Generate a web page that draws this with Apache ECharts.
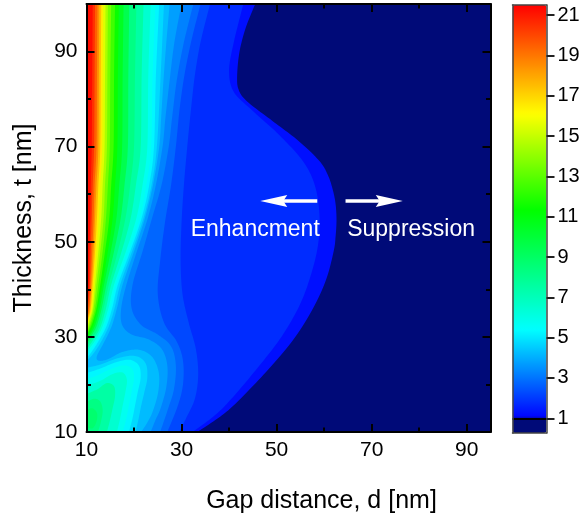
<!DOCTYPE html>
<html>
<head>
<meta charset="utf-8">
<script src="https://cdn.jsdelivr.net/npm/echarts@6/dist/echarts.min.js"></script>
<style>html,body{margin:0;padding:0;background:#fff}#c{width:587px;height:519px}</style>
</head>
<body>
<div id="c"></div>
<script>
// ---------- tick values ----------
const dMajor = [10, 30, 50, 70, 90];
const dMinor = [20, 40, 60, 80];
const tMajor = [10, 30, 50, 70, 90];
const tMinor = [20, 40, 60, 80, 100];
const cbTicks = [1, 3, 5, 7, 9, 11, 13, 15, 17, 19, 21];
const CB_MIN = 0.27, CB_MAX = 21.5;

// ---------- contour regions (d [nm], t [nm]) ----------
const base = [[10,10],[95,10],[95,100],[10,100]];
const c1   = [[45.5,100],[43.5,95],[42.2,90],[41.7,85],[42,82],[43.8,79.5],[49,75.5],[54.5,71.3],[59,67],[60.8,64],[61.8,61],[62.4,58],[62.6,54.6],[62.4,51],[62,48],[60.4,42],[57.5,35.7],[53.5,29.4],[48.2,23.1],[42.3,16.9],[38.5,13.5],[33.3,10],[10,10],[10,100]];
const c1_5 = [[43,100],[41,92],[40,86],[41,81.5],[45,77.5],[50.5,72.5],[55.5,67],[58,62],[59,56],[58.8,50],[57.5,44],[55,37],[51,30],[46,23.5],[40.5,17],[37,13.5],[32.3,10],[10,10],[10,100]];
const c2   = [[36,100],[34,92],[32.8,85],[32,78],[31.2,70],[30.5,62],[30,54],[29.8,46],[30.2,39],[31.5,33],[33,27.5],[33.5,22],[32.8,17],[31,13],[29.5,10],[10,10],[10,100]];
const c2_5 = [[34,100],[32,92],[30.6,85],[29.6,78],[28.8,70],[27.8,62],[26.5,54],[25.5,46],[25,39],[26.3,33],[29,29],[30.3,25],[30.3,20],[29.2,15.5],[27,10],[10,10],[10,100]];
const c3   = [[32.5,100],[30.5,92],[29,84],[28,76],[27.3,70],[25.8,62],[23.8,55],[21.8,48],[19.7,41],[19.5,36],[21.5,32.5],[25,30.5],[27.8,28],[28.8,24],[28.4,19],[27.2,15],[25.5,10],[10,10],[10,100]];
const c3_5 = [[30,100],[28.5,92],[27.5,84],[26.6,76],[26,70],[24.6,62],[22.9,55],[20.6,48],[18.4,41],[17.3,36],[17.5,32.5],[19.5,30.5],[23,29.5],[25.8,27.5],[27,24],[26.8,19.5],[25.6,15],[24.5,12.5],[23.5,10],[10,10],[10,100]];
const c4   = [[27.5,100],[26.8,92],[26.2,84],[25.7,76],[25.3,70],[24,62],[22.3,55],[20,48],[17.6,41],[16.4,36],[15.2,32],[13.5,28.5],[12.2,26],[12.5,25],[14.5,25.3],[17.5,26.8],[21,27.3],[23.8,25.8],[25.2,22.5],[25.1,18.5],[24,14.5],[22.8,12],[21.5,10],[10,10],[10,100]];
const s4_5 = [[26.3,100],[25.6,85],[24.8,70],[23.7,62],[22,55],[19.6,48],[17.1,41],[15.9,36],[14.6,32],[12.8,28.5],[11.2,26.2],[10,25],[10,100]];
const s5   = [[25.3,100],[24.6,85],[24.2,70],[23.2,62],[21.6,55],[19.2,48],[16.6,41],[15.4,36],[14.1,32],[12.3,28.7],[10.9,26.6],[10,25.6],[10,100]];
const s5_5 = [[24.5,100],[23.9,85],[23.6,70],[22.6,62],[21.2,55],[18.8,48],[16.2,41],[15,36],[13.7,32],[12,28.9],[10.7,27],[10,26.1],[10,100]];
const s6   = [[23.5,100],[23,85],[22.8,70],[21.8,62],[20.5,55],[18.3,48],[15.8,41],[14.6,36],[13.3,32],[11.8,29.2],[10.5,27.4],[10,26.6],[10,100]];
const s7   = [[22,100],[21.6,85],[21.4,70],[20.4,62],[19.3,55],[17.4,48],[15.2,41],[14.1,36],[12.9,32],[11.5,29.5],[10,27.3],[10,100]];
const s8   = [[20.5,100],[20.2,85],[20,70],[19.2,62],[18.2,55],[16.6,48],[14.7,41],[13.6,36],[12.5,32],[11.2,29.8],[10,27.9],[10,100]];
const s9   = [[19,100],[18.8,85],[18.7,70],[18,62],[17.2,55],[15.8,48],[14.2,41],[13.2,36],[12.1,32.2],[10.9,30],[10,28.4],[10,100]];
const s10  = [[17.8,100],[17.6,85],[17.5,70],[16.9,62],[16.3,55],[15.1,48],[13.7,41],[12.8,36],[11.8,32.4],[10.7,30.3],[10,28.9],[10,100]];
const s11  = [[16.8,100],[16.6,85],[16.5,70],[16,62],[15.5,55],[14.5,48],[13.3,41],[12.4,36],[11.5,32.6],[10.5,30.5],[10,29.4],[10,100]];
const s12  = [[16,100],[15.8,85],[15.7,70],[15.2,62],[14.8,55],[13.9,48],[12.9,41],[12.1,36],[11.2,32.8],[10.3,30.8],[10,29.9],[10,100]];
const s13  = [[15.2,100],[15,85],[14.9,70],[14.5,62],[14.1,55],[13.4,48],[12.5,41],[11.8,36],[11,33],[10,30.4],[10,100]];
const s14  = [[14.5,100],[14.4,85],[14.3,70],[13.9,62],[13.6,55],[12.9,48],[12.1,41],[11.5,36],[10.8,33.2],[10,30.8],[10,100]];
const s15  = [[14,100],[13.9,85],[13.8,70],[13.4,62],[13.1,55],[12.5,48],[11.8,41],[11.3,36],[10.6,33.4],[10,31.2],[10,100]];
const s16  = [[13.5,100],[13.4,85],[13.3,70],[12.9,62],[12.6,55],[12.1,48],[11.5,41],[11.1,36],[10.5,33.6],[10,31.6],[10,100]];
const s17  = [[13.1,100],[13,85],[12.9,70],[12.5,62],[12.2,55],[11.8,48],[11.3,41],[10.9,36],[10.4,33.8],[10,32],[10,100]];
const s18  = [[12.7,100],[12.6,85],[12.5,70],[12.1,62],[11.8,55],[11.5,48],[11.1,41],[10.7,36],[10.3,34],[10,32.4],[10,100]];
const s19  = [[12.3,100],[12.2,85],[12.1,70],[11.7,62],[11.5,55],[11.2,48],[10.9,41],[10.6,36.5],[10,33],[10,100]];
const s20  = [[11.8,100],[11.7,85],[11.6,70],[11.3,62],[11.1,55],[10.9,48],[10.7,41],[10.4,37],[10,34],[10,100]];
const s21  = [[11.3,100],[11.2,85],[11.1,70],[10.9,62],[10.8,55],[10.6,48],[10.5,41],[10.2,37],[10,35.5],[10,100]];
const b4_5 = [[10,10],[20.3,10],[20.9,12.5],[21.5,15.5],[22.2,18.5],[22.8,21.5],[22.4,24.5],[20.2,26],[16.5,25.5],[13,24.2],[10,23.5]];
const b5   = [[10,10],[18.9,10],[19.6,12.5],[20.2,15.5],[20.8,18.5],[21.4,21.5],[21,24],[19,25.2],[16,24.6],[12.8,23.3],[10,22.4]];
const b5_5 = [[10,10],[17.6,10],[18.3,12.5],[18.9,15.5],[19.5,18.5],[20,21.3],[19.6,23.3],[17.8,24],[15,23.2],[12.3,21.9],[10,21.2]];
const b6   = [[10,10],[16.4,10],[17,12.5],[17.6,15.5],[18.2,18.5],[18.5,21],[17.6,22.5],[15.5,22.2],[12.8,20.7],[10,19.8]];
const b7   = [[10,10],[14.3,10],[14.9,12.3],[15.5,15],[16,17.5],[15.8,19.6],[14.3,20.3],[12.3,19],[10,18]];
const b8   = [[10,10],[12.4,10],[13,12],[13.4,14.5],[12.9,16.4],[11.6,17],[10,16.3]];
const b8_5 = [[10,11],[11.3,10.8],[12.1,12.2],[12.2,14],[11.2,15],[10,14.6]];

// level of each region, drawn in this order
const regions = [
  [CB_MIN, base], [1, c1], [1.5, c1_5], [2, c2], [2.5, c2_5], [3, c3], [3.5, c3_5], [4, c4],
  [4.5, s4_5], [4.5, b4_5], [5, s5], [5, b5], [5.5, s5_5], [5.5, b5_5], [6, s6], [6, b6],
  [7, s7], [7, b7], [8, s8], [8, b8], [8.5, b8_5], [9, s9], [10, s10], [11, s11], [12, s12],
  [13, s13], [14, s14], [15, s15], [16, s16], [17, s17], [18, s18], [19, s19], [20, s20], [21, s21]
];

// annotations
const arrowLeft  = [[58.55, 58.6], [49.4, 58.6]];
const arrowRight = [[64.5, 58.6], [73.7, 58.6]];
const notes = [['Enhancment', 45.5, 52.5], ['Suppression', 78.3, 52.5]];

// ---------- colour scale ----------
const NAVY = [0, 10, 120];
function colorAt(v) {
  let r = 0, g = 0, b = 0;
  if (v < 1) { [r, g, b] = NAVY; }
  else if (v < 5.4) { g = 255 * (v - 1) / 4.4; b = 255; }
  else if (v < 11.3) { g = 255; b = 255 * (1 - (v - 5.4) / 5.9); }
  else if (v < 16.1) { g = 255; r = 255 * (v - 11.3) / 4.8; }
  else { r = 255; g = Math.max(0, 255 * (1 - (v - 16.1) / 5.4)); }
  return 'rgb(' + Math.round(r) + ',' + Math.round(g) + ',' + Math.round(b) + ')';
}
const NSTOP = 430;
const cmap = [];
for (let i = 0; i <= NSTOP; i++) cmap.push(colorAt(CB_MIN + (CB_MAX - CB_MIN) * i / NSTOP));

const levelsSorted = Array.from(new Set(regions.map(r => r[0]))).sort((a, b) => a - b);
const regionData = regions.map((r, i) => {
  const k = levelsSorted.indexOf(r[0]);
  const next = k < levelsSorted.length - 1 ? levelsSorted[k + 1] : CB_MAX;
  return [(r[0] + next) / 2, i];
});

// ---------- smooth outline drawing ----------
function onEdge(a, b) {
  return (a[0] === b[0] && (a[0] === 10 || a[0] === 95)) || (a[1] === b[1] && (a[1] === 10 || a[1] === 100));
}
function smoothOutline(pts, px) {
  const n = pts.length, out = [];
  const straight = i => onEdge(pts[i], pts[(i + 1) % n]);
  for (let i = 0; i < n; i++) {
    const j = (i + 1) % n;
    const p1 = px[i], p2 = px[j];
    out.push(p1);
    if (straight(i)) continue;
    const p0 = straight((i - 1 + n) % n) ? p1 : px[(i - 1 + n) % n];
    const p3 = straight(j) ? p2 : px[(j + 1) % n];
    const c1 = [p1[0] + (p2[0] - p0[0]) / 6, p1[1] + (p2[1] - p0[1]) / 6];
    const c2 = [p2[0] - (p3[0] - p1[0]) / 6, p2[1] - (p3[1] - p1[1]) / 6];
    const K = 12;
    for (let k = 1; k < K; k++) {
      const s = k / K, u = 1 - s;
      out.push([
        u*u*u*p1[0] + 3*u*u*s*c1[0] + 3*u*s*s*c2[0] + s*s*s*p2[0],
        u*u*u*p1[1] + 3*u*u*s*c1[1] + 3*u*s*s*c2[1] + s*s*s*p2[1]
      ]);
    }
  }
  return out;
}

const FONT = 'Liberation Sans, Arial, Helvetica, sans-serif';
const black = '#000';

function mainAxis(pos, isX, ticks, len, labels, extra) {
  return {
    type: 'value', gridIndex: 0, position: pos,
    min: 10, max: isX ? 95 : 100,
    splitLine: { show: false },
    axisLine: { show: !!labels || extra === 'line', onZero: false, lineStyle: { color: black, width: 2 } },
    axisTick: { show: true, inside: true, length: len, customValues: ticks, lineStyle: { color: black, width: 2 } },
    axisLabel: labels ? { show: true, customValues: labels, fontSize: 21, color: black, fontFamily: FONT, margin: isX ? 8 : 9 } : { show: false },
    z: 6
  };
}

const chart = echarts.init(document.getElementById('c'), null, { renderer: 'canvas' });

const xAxes = [
  Object.assign(mainAxis('bottom', true, dMajor, 8, dMajor), {
    name: 'Gap distance, d [nm]', nameLocation: 'middle', nameGap: 57,
    nameTextStyle: { fontSize: 25, color: black, fontFamily: FONT, padding: [0, 0, 0, 66] }
  }),
  mainAxis('bottom', true, dMinor, 4.5, null),
  mainAxis('top', true, dMajor, 8, null, 'line'),
  mainAxis('top', true, dMinor, 4.5, null),
  { type: 'value', gridIndex: 1, position: 'bottom', min: 0, max: 1, z: 10,
    axisLine: { show: true, onZero: false, lineStyle: { color: '#444', width: 1.5 } },
    axisTick: { show: false }, axisLabel: { show: false }, splitLine: { show: false } },
  { type: 'value', gridIndex: 1, position: 'top', min: 0, max: 1, z: 10,
    axisLine: { show: true, onZero: false, lineStyle: { color: '#444', width: 1.5 } },
    axisTick: { show: false }, axisLabel: { show: false }, splitLine: { show: false } }
];
const yAxes = [
  Object.assign(mainAxis('left', false, tMajor, 8, tMajor), {
    name: 'Thickness, t [nm]', nameLocation: 'middle', nameGap: 50,
    nameTextStyle: { fontSize: 25, color: black, fontFamily: FONT }
  }),
  mainAxis('left', false, tMinor, 4.5, null),
  mainAxis('right', false, tMajor, 8, null, 'line'),
  mainAxis('right', false, tMinor, 4.5, null),
  { type: 'value', gridIndex: 1, position: 'right', min: CB_MIN, max: CB_MAX, z: 10,
    axisLine: { show: true, onZero: false, lineStyle: { color: '#444', width: 1.5 } },
    axisTick: { show: true, inside: false, length: 8, customValues: cbTicks, lineStyle: { color: '#222', width: 2 } },
    axisLabel: { show: true, customValues: cbTicks, fontSize: 20, color: black, fontFamily: FONT, margin: 11 },
    splitLine: { show: false } },
  { type: 'value', gridIndex: 1, position: 'left', min: CB_MIN, max: CB_MAX, z: 10,
    axisLine: { show: true, onZero: false, lineStyle: { color: '#444', width: 1.5 } },
    axisTick: { show: false }, axisLabel: { show: false }, splitLine: { show: false } }
];

chart.setOption({
  animation: false,
  backgroundColor: '#fff',
  textStyle: { fontFamily: FONT },
  grid: [
    { left: 86.5, top: 4, width: 404, height: 429, containLabel: false },
    { left: 512.5, top: 5, width: 34, height: 428, containLabel: false }
  ],
  xAxis: xAxes,
  yAxis: yAxes,
  visualMap: {
    type: 'continuous', seriesIndex: 0, dimension: 0,
    min: CB_MIN, max: CB_MAX, calculable: false, hoverLink: false,
    inRange: { color: cmap },
    left: 512.5, top: 5, itemWidth: 34, itemHeight: 428, padding: 0,
    text: null, showLabel: false
  },
  series: [
    {
      type: 'custom', coordinateSystem: 'cartesian2d', xAxisIndex: 0, yAxisIndex: 0,
      clip: true, silent: true, data: regionData,
      renderItem: function (params, api) {
        const pts = regions[api.value(1)][1];
        const px = pts.map(p => api.coord(p));
        return { type: 'polygon', shape: { points: smoothOutline(pts, px) }, style: { fill: api.visual('color') } };
      }
    },
    {
      type: 'scatter', xAxisIndex: 0, yAxisIndex: 0, data: [], silent: true, z: 10,
      markLine: {
        silent: true, z: 10,
        symbol: ['none', 'path://M6,0 L12,27 L6,23 L0,27 Z'], symbolSize: 27, symbolKeepAspect: true,
        label: { show: false },
        lineStyle: { color: '#fff', width: 3.5, type: 'solid' },
        itemStyle: { color: '#fff' },
        data: [
          [{ coord: arrowLeft[0] }, { coord: arrowLeft[1] }],
          [{ coord: arrowRight[0] }, { coord: arrowRight[1] }]
        ]
      },
      markPoint: {
        silent: true, z: 10, symbol: 'circle', symbolSize: 1,
        itemStyle: { color: 'rgba(0,0,0,0)' },
        label: { show: true, position: 'inside', formatter: '{b}', color: '#fff', fontSize: 23, fontFamily: FONT },
        data: notes.map(n => ({ name: n[0], coord: [n[1], n[2]] }))
      }
    },
    {
      type: 'line', xAxisIndex: 4, yAxisIndex: 4, data: [], silent: true, z: 10,
      markLine: {
        silent: true, z: 10, symbol: 'none', label: { show: false },
        lineStyle: { color: '#000', width: 2, type: 'solid' },
        data: [{ yAxis: 1 }]
      }
    }
  ]
});
</script>
</body>
</html>
